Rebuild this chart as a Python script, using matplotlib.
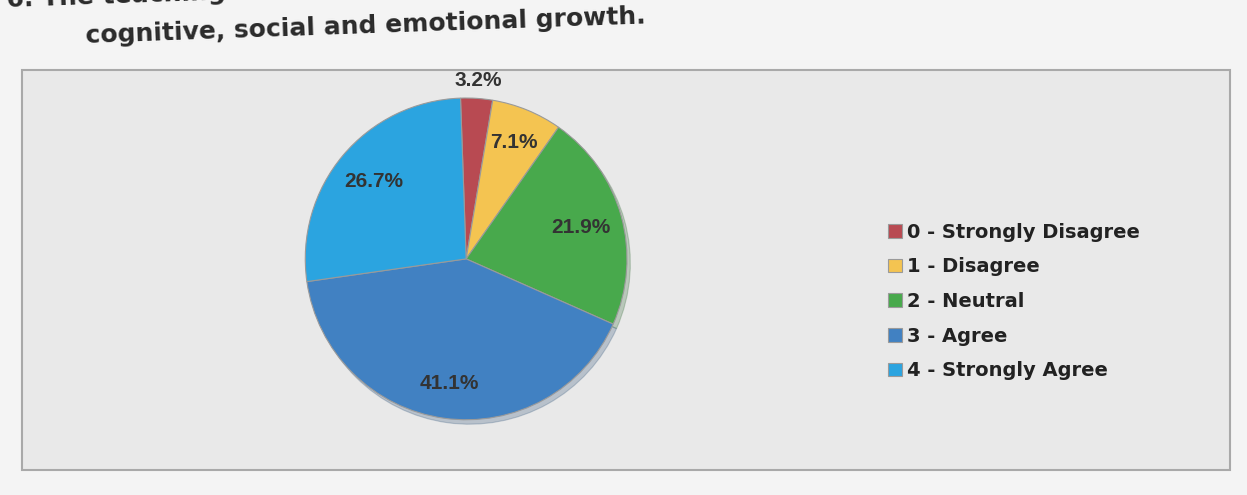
import matplotlib
matplotlib.use("Agg")
import matplotlib.pyplot as plt
from matplotlib.patches import Rectangle
import numpy as np

# survey answers for the question
categories = ["0 - Strongly Disagree", "1 - Disagree", "2 - Neutral", "3 - Agree", "4 - Strongly Agree"]
shares = [3.2, 7.1, 21.9, 41.1, 26.7]
share_labels = ["3.2%", "7.1%", "21.9%", "41.1%", "26.7%"]
colors = ["#b84a52", "#f4c451", "#48a94c", "#4181c2", "#2ba4e0"]

fig = plt.figure(figsize=(12.47, 4.95), dpi=100)
fig.patch.set_facecolor("#f4f4f4")

# chart frame on the page
frame = Rectangle((22 / 1247, 25 / 495), 1208 / 1247, 400 / 495,
                  transform=fig.transFigure, facecolor="#e9e9e9",
                  edgecolor="#a9a9a9", linewidth=1.5, zorder=-5)
fig.patches.append(frame)

# question text (first line cut off at the top of the photo)
fig.text(0.005, 0.975, "6. The teaching", fontsize=18, fontweight="bold",
         color="#2a2a2a", rotation=2, va="bottom", ha="left")
fig.text(0.068, 0.948, "cognitive, social and emotional growth.", fontsize=18,
         fontweight="bold", color="#2a2a2a", rotation=2, va="center", ha="left")

ax = fig.add_axes([0.219, 0.087, 0.3096, 0.780])
ax.set_zorder(2)
wedges, texts = ax.pie(shares, colors=colors, startangle=92, counterclock=False,
                       shadow=dict(ox=0.015, oy=-0.02, shade=0.4, alpha=0.25),
                       wedgeprops=dict(edgecolor="#9a9a9a", linewidth=0.8))
ax.set_xlim(-1.2, 1.2)
ax.set_ylim(-1.2, 1.2)
ax.set_aspect("equal")
ax.axis("off")

radii = [1.11, 0.78, 0.74, 0.78, 0.75]
for w, lab, r in zip(wedges, share_labels, radii):
    mid = np.deg2rad((w.theta1 + w.theta2) / 2)
    ax.text(r * np.cos(mid), r * np.sin(mid), lab, ha="center", va="center",
            fontsize=15, fontweight="bold", color="#333333",
            family="Liberation Sans")

leg = fig.legend(wedges, categories, loc="upper left", bbox_to_anchor=(0.698, 0.585),
                 frameon=False, handlelength=0.7, handleheight=0.7,
                 handletextpad=0.3, labelspacing=0.8,
                 prop=dict(size=14, weight="bold"))
for t in leg.get_texts():
    t.set_color("#222222")

fig.savefig("out.png", dpi=100)
